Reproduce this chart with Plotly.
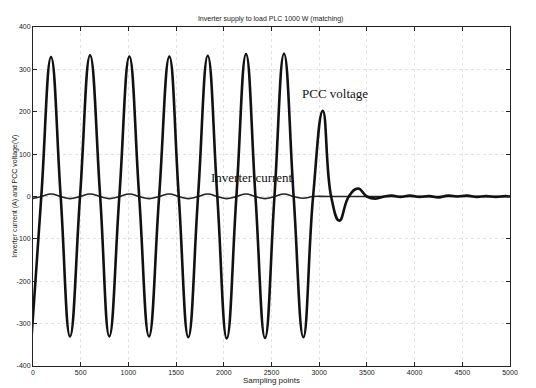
import plotly.graph_objects as go

# PCC voltage: sample index and value (V) at extrema and zero crossings
v_samples = [-14, 87, 189, 290, 388, 493, 598, 704, 800, 905, 1010, 1113, 1216, 1322,
             1429, 1528, 1628, 1730, 1832, 1932, 2031, 2132, 2233, 2332, 2432, 2531,
             2631, 2732, 2834, 2936, 3038, 3125, 3211, 3310, 3407, 3500, 3590, 3680,
             3760, 3850, 3950, 4050, 4150, 4250, 4350, 4450, 4550, 4650, 4750, 4850,
             4950, 5000]
v_values = [-328, 0, 329, 0, -330, 0, 333, 0, -330, 0, 330, 0, -330, 0,
            330, 0, -332, 0, 332, 0, -335, 0, 336, 0, -334, 0,
            337, 0, -332, 0, 202, 0, -57, 0, 19, 0, -5, 0,
            2, -1, 2, -1, 1, -2, 2, 0, 2, -1, 1, -1,
            1, 0]

# Inverter current (A): same node positions, oscillation stops after ~2900 samples
i_samples = [-14, 87, 189, 290, 388, 493, 598, 704, 800, 905, 1010, 1113, 1216, 1322,
             1429, 1528, 1628, 1730, 1832, 1932, 2031, 2132, 2233, 2332, 2432, 2531,
             2631, 2732, 2834, 2936, 3100, 5000]
i_values = [-5, 0, 6, 0, -5, 0, 6, 0, -5, 0, 6, 0, -5, 0,
            6, 0, -5, 0, 6, 0, -5, 0, 6, 0, -5, 0,
            6, 0, -4, 0, 0, 0]

x_ticks = list(range(0, 5001, 500))
y_ticks = list(range(-400, 401, 100))

fig = go.Figure()
fig.add_trace(go.Scatter(x=i_samples, y=i_values, mode="lines",
                         line=dict(color="#222", width=1.6, shape="spline", smoothing=1.3),
                         showlegend=False))
fig.add_trace(go.Scatter(x=v_samples, y=v_values, mode="lines",
                         line=dict(color="#111", width=2.6, shape="spline", smoothing=1.3),
                         showlegend=False))

axis_common = dict(showline=True, linecolor="#222", linewidth=1, mirror="ticks",
                   ticks="inside", ticklen=4, tickcolor="#222", automargin=False,
                   showgrid=True, gridcolor="#e2e2e2", griddash="dot", gridwidth=1,
                   zeroline=False, tickfont=dict(family="Liberation Sans", size=7, color="#222"))

fig.update_xaxes(range=[0, 5000], tickvals=x_ticks, ticktext=[str(t) for t in x_ticks],
                 title=dict(text="Sampling points", font=dict(family="Liberation Sans", size=8, color="#222"),
                            standoff=0),
                 **axis_common)
fig.update_yaxes(range=[-400, 400], tickvals=y_ticks, ticktext=[str(t) for t in y_ticks],
                 **axis_common)

# Vertical axis title placed close to the page edge
fig.add_annotation(xref="paper", yref="paper", x=-0.052, y=0.5, textangle=-90,
                   text="Inverter current (A) and PCC voltage(V)", showarrow=False,
                   font=dict(family="Liberation Sans", size=7, color="#222"))

fig.add_annotation(x=3166, y=244, text="PCC voltage", showarrow=False,
                   font=dict(family="Liberation Serif", size=13, color="#111"))
fig.add_annotation(x=2296, y=46, text="Inverter current", showarrow=False,
                   font=dict(family="Liberation Serif", size=13, color="#111"))

fig.update_layout(
    width=536, height=388,
    margin=dict(l=33, r=26, t=27, b=22),
    paper_bgcolor="white", plot_bgcolor="white",
    title=dict(text="Inverter supply to load PLC 1000 W (matching)",
               font=dict(family="Liberation Sans", size=7, color="#222"),
               x=0.505, xanchor="center", y=0.953, yanchor="middle"),
)

fig.write_html("out.html")
